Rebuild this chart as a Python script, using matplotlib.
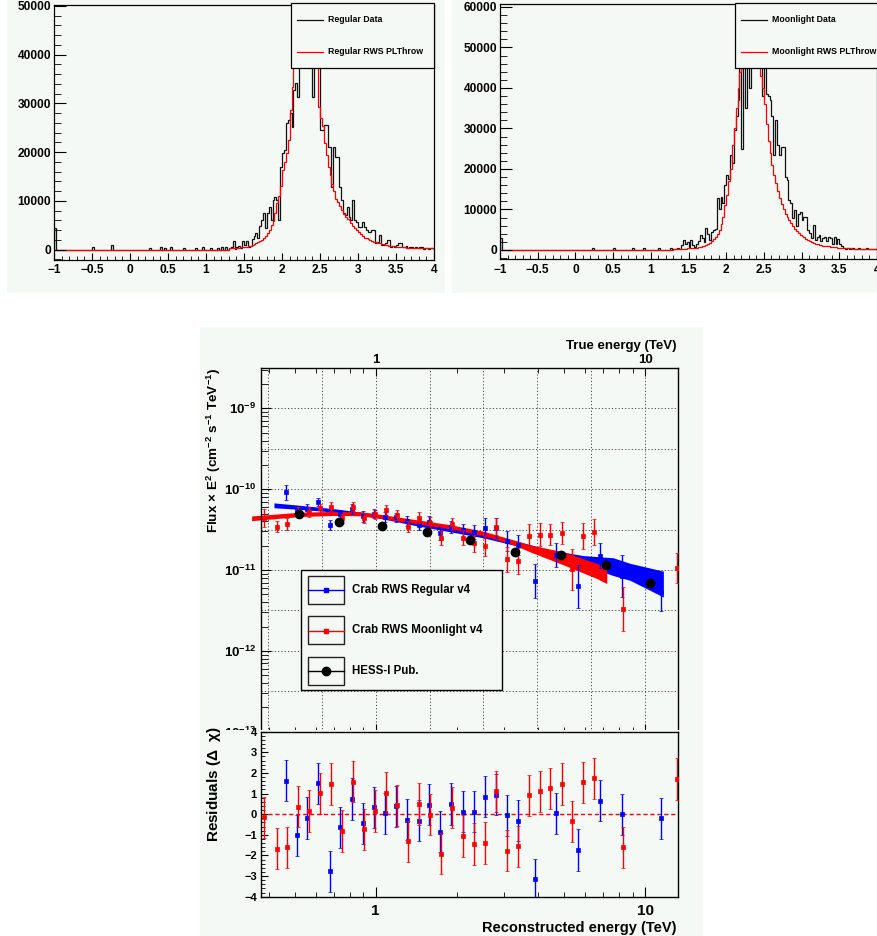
import numpy as np
import matplotlib
matplotlib.use("Agg")
import matplotlib.pyplot as plt
from matplotlib.patches import Rectangle
from matplotlib.lines import Line2D
from matplotlib.ticker import (FixedLocator, LogLocator, MultipleLocator,
                               NullFormatter, FuncFormatter)

# ROOT-ish look: bold helvetica everywhere, maths in the same face
plt.rcParams["font.family"] = ["Liberation Sans", "DejaVu Sans"]
plt.rcParams["font.weight"] = "bold"
plt.rcParams["mathtext.fontset"] = "custom"
plt.rcParams["mathtext.rm"] = "Liberation Sans:bold"
plt.rcParams["mathtext.it"] = "Liberation Sans:italic:bold"
plt.rcParams["mathtext.bf"] = "Liberation Sans:bold"
plt.rcParams["mathtext.sf"] = "Liberation Sans:bold"
plt.rcParams["mathtext.default"] = "rm"

W, H = 877, 936
PAD = "#f5f9f6"
BLUE = "#0000ff"
RED = "#ff0000"

# ---------------- histograms (counts in thousands, 0.025 wide bins) ----------
# bins from 1.30 up to 4.00, twelve bins per row
reg_data_tail = [
    0.3, 0.6, 1.7, 0.2, 0.5, 0.8, 0.3, 1.7, 0.9, 1.7, 0.6, 0.7,
    2.2, 2.8, 3.5, 2.5, 4.8, 6.1, 7.5, 4.5, 7.5, 8.8, 6.1, 10.2,
    10.9, 10.2, 6.0, 17.0, 19.8, 20.5, 25.9, 26.6, 28.0, 25.2, 32.8, 34.1,
    31.4, 45.0, 52.0, 58.0, 62.0, 60.0, 55.0, 50.0, 31.4, 44.0, 40.0, 39.0,
    24.6, 24.6, 25.6, 25.6, 21.1, 21.1, 12.9, 21.1, 19.1, 19.1, 12.9, 10.2,
    7.5, 7.1, 8.8, 6.8, 6.1, 10.2, 6.1, 5.7, 4.7, 4.7, 5.7, 4.7,
    4.0, 3.7, 3.6, 4.0, 4.0, 1.3, 1.5, 3.0, 1.0, 1.0, 1.3, 2.0,
    2.0, 0.6, 0.7, 0.5, 1.0, 1.4, 1.4, 0.6, 0.6, 0.8, 0.3, 0.6,
    0.6, 0.3, 0.5, 0.3, 0.5, 0.6, 0.2, 0.4, 0.4, 0.2, 0.3, 0.4,
]
reg_model_tail = [
    0.25, 0.3, 0.3, 0.35, 0.4, 0.45, 0.5, 0.55, 0.6, 0.65, 0.75, 0.85,
    0.95, 1.1, 1.3, 1.5, 1.7, 2.0, 2.4, 2.9, 3.5, 4.1, 5.0, 5.8,
    7.5, 9.6, 11.0, 13.0, 16.3, 18.0, 19.8, 22.5, 28.7, 33.4, 38.0, 44.0,
    50.0, 55.0, 58.0, 60.0, 61.0, 60.0, 57.0, 52.0, 46.0, 42.0, 38.0, 29.3,
    27.0, 25.3, 21.8, 19.5, 17.0, 15.3, 13.5, 12.0, 10.5, 9.8, 9.0, 8.1,
    7.3, 6.8, 6.4, 6.1, 5.4, 4.8, 4.4, 4.0, 3.6, 3.2, 2.9, 2.5,
    2.3, 2.1, 1.9, 1.7, 1.6, 1.5, 1.4, 1.3, 1.2, 1.1, 1.0, 0.9,
    0.85, 0.8, 0.75, 0.7, 0.65, 0.6, 0.55, 0.5, 0.5, 0.45, 0.45, 0.4,
    0.4, 0.4, 0.35, 0.35, 0.3, 0.3, 0.3, 0.3, 0.3, 0.25, 0.25, 0.25,
]
moon_data_tail = [
    0.3, 0.2, 0.5, 0.3, 1.2, 2.5, 1.5, 2.0, 0.8, 2.5, 1.2, 0.8,
    1.5, 2.2, 3.7, 3.0, 2.0, 5.4, 4.0, 2.5, 4.5, 4.9, 5.2, 12.8,
    10.0, 13.0, 11.5, 16.0, 18.5, 17.5, 23.5, 21.4, 29.6, 33.0, 37.0, 47.0,
    25.0, 52.0, 35.0, 56.0, 40.0, 62.0, 66.0, 68.0, 65.0, 60.0, 54.0, 37.9,
    48.0, 38.6, 37.9, 37.0, 33.0, 23.5, 32.0, 26.0, 23.5, 25.5, 25.5, 18.0,
    17.3, 12.3, 11.5, 7.8, 9.9, 5.8, 9.0, 9.5, 7.4, 8.2, 8.2, 4.9,
    4.1, 2.9, 6.2, 2.5, 3.3, 3.7, 2.1, 2.9, 3.2, 2.1, 3.3, 2.9,
    1.5, 3.2, 1.5, 2.8, 1.5, 1.0, 0.4, 0.2, 0.4, 0.3, 0.2, 0.5,
    0.3, 0.2, 0.4, 0.3, 0.2, 0.3, 0.4, 0.2, 0.3, 0.2, 0.3, 0.2,
]
moon_model_tail = [
    0.2, 0.2, 0.25, 0.25, 0.3, 0.3, 0.35, 0.4, 0.4, 0.45, 0.5, 0.55,
    0.6, 0.7, 0.8, 0.9, 1.0, 1.2, 1.5, 1.8, 2.2, 2.6, 3.2, 4.0,
    4.9, 6.5, 8.2, 11.0, 13.5, 17.0, 20.0, 26.0, 30.0, 35.0, 40.0, 44.0,
    50.0, 56.0, 60.0, 63.0, 65.0, 66.0, 65.0, 62.0, 57.0, 50.0, 43.0, 40.0,
    36.0, 31.0, 27.0, 24.0, 21.0, 18.5, 16.5, 14.5, 12.8, 11.3, 10.0, 9.0,
    8.2, 7.4, 6.6, 5.8, 5.2, 4.7, 4.2, 3.8, 3.4, 3.1, 2.8, 2.5,
    2.2, 2.0, 1.8, 1.6, 1.5, 1.3, 1.2, 1.1, 1.0, 0.95, 0.9, 0.8,
    0.75, 0.7, 0.65, 0.6, 0.55, 0.5, 0.5, 0.45, 0.4, 0.4, 0.4, 0.35,
    0.35, 0.3, 0.3, 0.3, 0.3, 0.3, 0.25, 0.25, 0.25, 0.25, 0.2, 0.2,
]
# isolated low-energy entries in the data histograms
reg_spike_x = [-1.0, -0.5, -0.25, 0.25, 0.4, 0.45, 0.525, 0.7, 0.85, 0.95, 1.05, 1.15, 1.2, 1.25]
reg_spike_n = [4.5, 0.5, 0.9, 0.3, 0.5, 0.3, 0.6, 0.3, 0.4, 0.6, 0.3, 0.3, 0.5, 0.5]
moon_spike_x = [-1.0, 0.225, 0.5, 0.75, 0.9, 1.1, 1.25]
moon_spike_n = [3.0, 0.6, 0.6, 0.6, 0.6, 0.4, 0.5]

# ---------------- spectrum (flux in 1e-11 cm-2 s-1 TeV, errors in dex) ------
reg_e = [0.465, 0.509, 0.557, 0.612, 0.675, 0.739, 0.814, 0.898, 0.983, 1.083,
         1.19, 1.311, 1.445, 1.58, 1.738, 1.91, 2.11, 2.31, 2.55, 2.79,
         3.07, 3.37, 3.89, 4.68, 5.62, 6.79, 8.19, 11.5]
reg_flux = [9.1, 5.4, 5.7, 6.98, 3.6, 4.9, 5.7, 4.6, 5.0, 4.55,
            4.5, 4.0, 3.65, 3.9, 2.85, 3.4, 3.1, 2.95, 3.3, 3.27,
            2.3, 2.05, 0.73, 1.53, 0.63, 1.5, 0.85, 0.54]
reg_err = [0.091, 0.062, 0.062, 0.05, 0.066, 0.058, 0.058, 0.066, 0.058, 0.062,
           0.058, 0.062, 0.066, 0.074, 0.083, 0.074, 0.083, 0.091, 0.124, 0.124,
           0.124, 0.124, 0.215, 0.144, 0.268, 0.153, 0.26, 0.235]
reg_res = [1.63, -1.03, -0.19, 1.5, -2.76, -0.63, 0.74, -0.44, 0.34, 0.05,
           0.39, -0.26, -0.31, 0.47, -0.84, 0.5, 0.13, 0.13, 0.85, 0.95,
           -0.05, -0.31, -3.15, 0.05, -1.73, 0.65, 0.0, -0.2]

moon_e = [0.385, 0.429, 0.467, 0.516, 0.567, 0.623, 0.685, 0.752, 0.826, 0.902,
          0.991, 1.089, 1.197, 1.315, 1.445, 1.586, 1.748, 1.926, 2.11, 2.31,
          2.55, 2.79, 3.07, 3.37, 3.70, 4.06, 4.45, 4.90, 5.37, 5.90,
          6.49, 8.26, 13.1]
moon_flux = [4.43, 3.45, 3.72, 5.2, 5.15, 5.8, 6.05, 4.35, 6.1, 4.36,
             4.9, 5.45, 4.8, 3.43, 4.45, 3.85, 2.5, 3.66, 2.5, 2.13,
             1.98, 3.43, 1.36, 1.29, 2.64, 2.75, 2.75, 2.85, 1.02, 2.65,
             2.92, 0.33, 1.05]
moon_err = [0.111, 0.066, 0.078, 0.062, 0.062, 0.058, 0.054, 0.058, 0.058, 0.062,
            0.058, 0.062, 0.062, 0.066, 0.07, 0.07, 0.083, 0.074, 0.091, 0.103,
            0.124, 0.103, 0.157, 0.157, 0.144, 0.144, 0.136, 0.136, 0.256, 0.161,
            0.161, 0.268, 0.186]
moon_res = [-0.15, -1.68, -1.6, 0.37, 0.15, 1.02, 1.47, -0.82, 1.58, -0.73,
            0.15, 1.05, 0.44, -1.32, 0.5, -0.03, -1.92, 0.31, -1.06, -1.44,
            -1.4, 1.11, -1.77, -1.55, 0.92, 1.11, 1.26, 1.47, -0.34, 1.55,
            1.74, -1.6, 1.71]

hess_e = [0.519, 0.731, 1.058, 1.55, 2.245, 3.29, 4.88, 7.15, 10.4]
hess_flux = [4.92, 3.88, 3.49, 2.92, 2.32, 1.67, 1.52, 1.17, 0.695]

# fitted spectra: centre (1e-11) and half width (dex) of the error bands
reg_band_e = [0.419, 0.524, 0.696, 1.0, 1.42, 1.89, 2.51, 3.34, 4.44, 5.90, 7.62, 8.80, 11.7]
reg_band_f = [6.31, 5.96, 5.47, 4.69, 3.70, 3.12, 2.65, 2.13, 1.63, 1.32, 1.10, 0.95, 0.67]
reg_band_w = [0.03, 0.025, 0.021, 0.021, 0.021, 0.021, 0.025, 0.029, 0.037, 0.058, 0.11, 0.105, 0.16]
moon_band_e = [0.346, 0.524, 0.696, 0.874, 1.0, 1.42, 1.89, 2.51, 3.34, 3.74, 4.96, 6.62, 7.21]
moon_band_f = [4.36, 4.88, 5.01, 4.97, 4.69, 3.95, 3.43, 2.84, 2.13, 1.85, 1.40, 0.975, 0.865]
moon_band_w = [0.029, 0.027, 0.025, 0.025, 0.025, 0.025, 0.025, 0.027, 0.032, 0.042, 0.08, 0.093, 0.105]


def box(x0, y0, x1, y1):
    return [x0 / W, 1 - y1 / H, (x1 - x0) / W, (y1 - y0) / H]


def fx(x):
    return x / W


def fy(y):
    return 1 - y / H


fig = plt.figure(figsize=(W / 100, H / 100), dpi=100)
fig.patch.set_facecolor("white")

# canvas pads
for x0, y0, x1, y1 in [(7, 0, 445, 293), (452, 0, 877, 293), (200, 327, 703, 936)]:
    fig.add_artist(Rectangle((fx(x0), fy(y1)), (x1 - x0) / W, (y1 - y0) / H,
                             transform=fig.transFigure, facecolor=PAD,
                             edgecolor="none", zorder=-5))

EDGES = np.linspace(-1.0, 4.0, 201)
TAIL0 = 92  # index of the 1.30 bin


def build_counts(tail, spike_x=(), spike_n=()):
    counts = np.zeros(200)
    counts[TAIL0:] = np.asarray(tail) * 1000
    for x, n in zip(spike_x, spike_n):
        counts[int(round((x + 1.0) / 0.025))] = n * 1000
    return counts


def hist_panel(rect, data, model, ylim, labels, leg_px):
    ax = fig.add_axes(rect)
    ax.set_facecolor(PAD)
    ax.stairs(data, EDGES, color="#111111", lw=0.9)
    ax.stairs(model, EDGES, color=RED, lw=0.9)
    ax.set_xlim(-1, 4)
    ax.set_ylim(*ylim)
    ax.xaxis.set_major_locator(MultipleLocator(0.5))
    ax.xaxis.set_minor_locator(MultipleLocator(0.1))
    ax.yaxis.set_major_locator(MultipleLocator(10000))
    ax.yaxis.set_minor_locator(MultipleLocator(2000))
    ax.xaxis.set_major_formatter(FuncFormatter(lambda v, p: f"{v:g}".replace("-", "\u2212")))
    ax.yaxis.set_major_formatter(FuncFormatter(lambda v, p: f"{int(round(v))}"))
    ax.tick_params(axis="x", which="both", direction="in", top=False, labelsize=8.6, pad=3.5)
    ax.tick_params(axis="x", which="major", length=5)
    ax.tick_params(axis="x", which="minor", length=2.8)
    ax.tick_params(axis="y", which="both", direction="in", right=False, labelsize=8.6, pad=2)
    ax.tick_params(axis="y", which="major", length=8.5)
    ax.tick_params(axis="y", which="minor", length=4.8)
    for s in ax.spines.values():
        s.set_linewidth(0.9)

    # legend box
    lx0, ly0, lx1, ly1 = leg_px
    fig.add_artist(Rectangle((fx(lx0), fy(ly1)), (lx1 - lx0) / W, (ly1 - ly0) / H,
                             transform=fig.transFigure, facecolor=PAD,
                             edgecolor="black", lw=0.9, zorder=3))
    for (lab, col), yy in zip(zip(labels, ["#111111", RED]), [ly0 + 16.5, ly0 + 49]):
        fig.add_artist(Line2D([fx(lx0 + 6), fx(lx0 + 32)], [fy(yy), fy(yy)],
                              transform=fig.transFigure, color=col, lw=0.9, zorder=4))
        fig.text(fx(lx0 + 37), fy(yy), lab, fontsize=6.3, va="center", ha="left", zorder=4)
    return ax


hist_panel(box(54, 5, 434, 259.5),
           build_counts(reg_data_tail, reg_spike_x, reg_spike_n),
           build_counts(reg_model_tail), (-2010, 50205),
           ["Regular Data", "Regular RWS PLThrow"], (291, 3, 434, 68))
hist_panel(box(500, 4, 877, 259.3),
           build_counts(moon_data_tail, moon_spike_x, moon_spike_n),
           build_counts(moon_model_tail), (-2300, 60740),
           ["Moonlight Data", "Moonlight RWS PLThrow"], (735, 3, 878, 68))

# ---------------- spectrum panel ----------------
XLIM = (0.375, 13.26)
ax = fig.add_axes(box(261, 368.5, 678, 731.7))
ax.set_facecolor(PAD)
ax.set_xscale("log")
ax.set_yscale("log")
ax.set_xlim(*XLIM)
ax.set_ylim(1e-13, 3.11e-9)

for gx in 10 ** (0.2 * np.arange(-2, 6)):
    ax.axvline(gx, color="#444444", lw=0.7, ls=(0, (1.2, 2.2)), zorder=0.5)
for gy in 10 ** (np.arange(-12.5, -8.9, 0.5)):
    ax.axhline(gy, color="#444444", lw=0.7, ls=(0, (1.2, 2.2)), zorder=0.5)


def band(e, f, w):
    f = np.asarray(f) * 1e-11
    w = np.asarray(w)
    return np.asarray(e), f * 10 ** (-w), f * 10 ** w


be, blo, bhi = band(reg_band_e, reg_band_f, reg_band_w)
ax.fill_between(be, blo, bhi, color=BLUE, lw=0, zorder=2)
me, mlo, mhi = band(moon_band_e, moon_band_f, moon_band_w)
ax.fill_between(me, mlo, mhi, color=RED, lw=0, zorder=2.1, clip_on=False)


def flux_points(e, f, d, col, z):
    f = np.asarray(f) * 1e-11
    d = np.asarray(d)
    yerr = [f * (1 - 10 ** (-d)), f * (10 ** d - 1)]
    ax.errorbar(e, f, yerr=yerr, fmt="s", ms=3.2, color=col, mec=col, mew=0.5,
                ecolor=col, elinewidth=1.0, capsize=1.6, capthick=1.0, zorder=z)


flux_points(reg_e, reg_flux, reg_err, BLUE, 3)
flux_points(moon_e, moon_flux, moon_err, RED, 3.1)
ax.plot(hess_e, np.asarray(hess_flux) * 1e-11, "o", color="black", ms=6, zorder=4)

ax.xaxis.set_major_locator(FixedLocator([1, 10]))
ax.xaxis.set_minor_locator(LogLocator(base=10, subs=np.arange(2, 10), numticks=20))
ax.xaxis.set_major_formatter(FuncFormatter(lambda v, p: f"{v:g}"))
ax.xaxis.set_minor_formatter(NullFormatter())
ax.yaxis.set_major_locator(LogLocator(base=10, numticks=10))
ax.yaxis.set_minor_locator(LogLocator(base=10, subs=np.arange(2, 10), numticks=20))
ax.yaxis.set_major_formatter(FuncFormatter(lambda v, p: r"$10^{%d}$" % round(np.log10(v))))
ax.yaxis.set_minor_formatter(NullFormatter())
ax.tick_params(axis="x", which="both", direction="in", top=True, bottom=True,
               labeltop=True, labelbottom=False, labelsize=9.5, pad=1.5)
ax.tick_params(axis="x", which="major", length=6)
ax.tick_params(axis="x", which="minor", length=3.5)
ax.tick_params(axis="y", which="both", direction="in", right=False, labelsize=9.5, pad=3.5)
ax.tick_params(axis="y", which="major", length=7.5)
ax.tick_params(axis="y", which="minor", length=5)
for s in ax.spines.values():
    s.set_linewidth(1.0)

fig.text(fx(677), fy(349), "True energy (TeV)", ha="right", va="baseline", fontsize=9.5)
fig.text(fx(214), fy(368), r"Flux $\times$ E$^{2}$ (cm$^{-2}$ s$^{-1}$ TeV$^{-1}$)",
         rotation=90, ha="center", va="top", fontsize=9.7)

# legend
fig.add_artist(Rectangle((fx(301), fy(690)), 201 / W, 120 / H, transform=fig.transFigure,
                         facecolor=PAD, edgecolor="black", lw=1.0, zorder=3))
legend_rows = [("Crab RWS Regular v4", BLUE, "s", 3.2, 575.7),
               ("Crab RWS Moonlight v4", RED, "s", 3.2, 616.0),
               ("HESS-I Pub.", "black", "o", 6, 656.7)]
for lab, col, mk, ms, top in legend_rows:
    fig.add_artist(Rectangle((fx(308), fy(top + 28)), 36 / W, 28 / H, transform=fig.transFigure,
                             facecolor="none", edgecolor="#222222", lw=1.0, zorder=4))
    yc = top + 14.5
    fig.add_artist(Line2D([fx(308), fx(344)], [fy(yc), fy(yc)], transform=fig.transFigure,
                          color=col, lw=1.0, zorder=4))
    fig.add_artist(Line2D([fx(326)], [fy(yc)], transform=fig.transFigure, marker=mk,
                          ms=ms, color=col, lw=0, zorder=5))
    fig.text(fx(352), fy(yc), lab, ha="left", va="center", fontsize=8.3, zorder=5)

# residual pad covers the bottom of the spectrum frame labels
fig.add_artist(Rectangle((fx(200), fy(936)), 503 / W, (936 - 730) / H,
                         transform=fig.transFigure, facecolor=PAD, edgecolor="none", zorder=0.5))

rx = fig.add_axes(box(261, 731.7, 678, 896.7))
rx.set_zorder(1)
rx.set_facecolor(PAD)
rx.set_xscale("log")
rx.set_xlim(*XLIM)
rx.set_ylim(-4, 4)
rx.axhline(0, color=RED, lw=1.0, ls=(0, (3, 2)), zorder=1)
rx.errorbar(reg_e, reg_res, yerr=1.0, fmt="s", ms=3.2, color=BLUE, mec=BLUE, mew=0.5,
            ecolor=BLUE, elinewidth=1.0, capsize=1.6, capthick=1.0, zorder=3)
rx.errorbar(moon_e, moon_res, yerr=1.0, fmt="s", ms=3.2, color=RED, mec=RED, mew=0.5,
            ecolor=RED, elinewidth=1.0, capsize=1.6, capthick=1.0, zorder=3.1)
rx.xaxis.set_major_locator(FixedLocator([1, 10]))
rx.xaxis.set_minor_locator(LogLocator(base=10, subs=np.arange(2, 10), numticks=20))
rx.xaxis.set_major_formatter(FuncFormatter(lambda v, p: f"{v:g}"))
rx.xaxis.set_minor_formatter(NullFormatter())
rx.yaxis.set_major_locator(MultipleLocator(1))
rx.yaxis.set_minor_locator(MultipleLocator(0.2))
rx.tick_params(axis="x", which="both", direction="in", top=False, labelsize=11, pad=5.5)
rx.tick_params(axis="x", which="major", length=7)
rx.tick_params(axis="x", which="minor", length=3.5)
rx.tick_params(axis="y", which="both", direction="in", right=False, labelsize=8, pad=3)
rx.tick_params(axis="y", which="major", length=5)
rx.tick_params(axis="y", which="minor", length=2.8)
for s in rx.spines.values():
    s.set_linewidth(1.0)

fig.text(fx(214), fy(726), r"Residuals ($\Delta$  $\chi$)", rotation=90, ha="center",
         va="top", fontsize=11, zorder=6)
fig.text(fx(677), fy(932), "Reconstructed energy (TeV)", ha="right", va="baseline",
         fontsize=10.5)

fig.savefig("out.png", dpi=100, facecolor="white")
